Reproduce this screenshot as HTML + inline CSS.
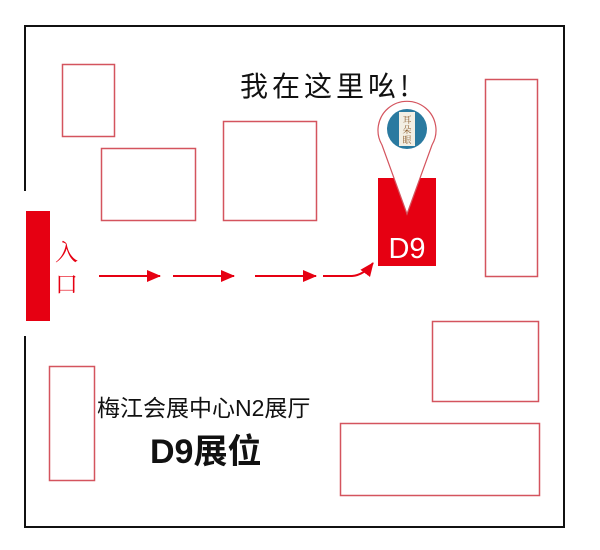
<!DOCTYPE html>
<html><head><meta charset="utf-8"><style>
html,body{margin:0;padding:0;background:#fff;}
svg{display:block;}
</style></head><body>
<svg width="600" height="550" viewBox="0 0 600 550" xmlns="http://www.w3.org/2000/svg">
<defs>
<marker id="ah" markerWidth="14" markerHeight="12" refX="13" refY="6" orient="auto" markerUnits="userSpaceOnUse">
<path d="M0,0 L14,6 L0,12 Z" fill="#e60012"/>
</marker>
</defs>
<path d="M25,191 V26 H564 V527 H25 V336" fill="none" stroke="#111" stroke-width="2"/>
<rect x="26" y="211" width="24" height="110" fill="#e60012"/>
<text x="55" y="260" font-family="'Noto Serif CJK SC','Liberation Serif',serif" font-size="23" fill="#e60012">入</text>
<text x="55" y="292" font-family="'Noto Serif CJK SC','Liberation Serif',serif" font-size="23" fill="#e60012">口</text>
<g fill="none" stroke="#d4545e" stroke-width="1.5">
<rect x="62.5" y="64.5" width="52" height="72"/>
<rect x="101.5" y="148.5" width="94" height="72"/>
<rect x="223.5" y="121.5" width="93" height="99"/>
<rect x="485.5" y="79.5" width="52" height="197"/>
<rect x="432.5" y="321.5" width="106" height="80"/>
<rect x="340.5" y="423.5" width="199" height="72"/>
<rect x="49.5" y="366.5" width="45" height="114"/>
</g>
<rect x="378" y="178" width="58" height="88" fill="#e60012"/>
<text x="407" y="258" text-anchor="middle" font-family="'Liberation Sans',sans-serif" font-size="29" fill="#fff">D9</text>
<path d="M407,214 L382,145 A29,29 0 1 1 432,145 Z" fill="#fff" stroke="#d4545e" stroke-width="1.2"/>
<circle cx="407" cy="129" r="20" fill="#2a7aa0"/>
<rect x="399" y="112" width="16" height="34" fill="#f3efe4"/>
<text x="407" y="123" text-anchor="middle" font-family="'Noto Serif CJK SC',serif" font-size="9" fill="#8a5a2a">耳</text>
<text x="407" y="133" text-anchor="middle" font-family="'Noto Serif CJK SC',serif" font-size="9" fill="#8a5a2a">朵</text>
<text x="407" y="143" text-anchor="middle" font-family="'Noto Serif CJK SC',serif" font-size="9" fill="#8a5a2a">眼</text>
<text x="240" y="96" font-family="'WenQuanYi Zen Hei','Noto Sans CJK SC',sans-serif" font-size="28" letter-spacing="4" fill="#111">我在这里吆!</text>
<g stroke="#e60012" stroke-width="2" fill="none">
<line x1="99" y1="276" x2="160" y2="276" marker-end="url(#ah)"/>
<line x1="173" y1="276" x2="234" y2="276" marker-end="url(#ah)"/>
<line x1="255" y1="276" x2="316" y2="276" marker-end="url(#ah)"/>
<path d="M323,276 L352,276 Q364,275 373,263" marker-end="url(#ah)"/>
</g>
<text x="97" y="416" font-family="'Liberation Sans','Noto Sans CJK SC',sans-serif" font-size="23" fill="#111">梅江会展中心N2展厅</text>
<text x="150" y="463" font-family="'Liberation Sans','Noto Sans CJK SC',sans-serif" font-size="34" font-weight="bold" fill="#111">D9展位</text>
</svg>
</body></html>
